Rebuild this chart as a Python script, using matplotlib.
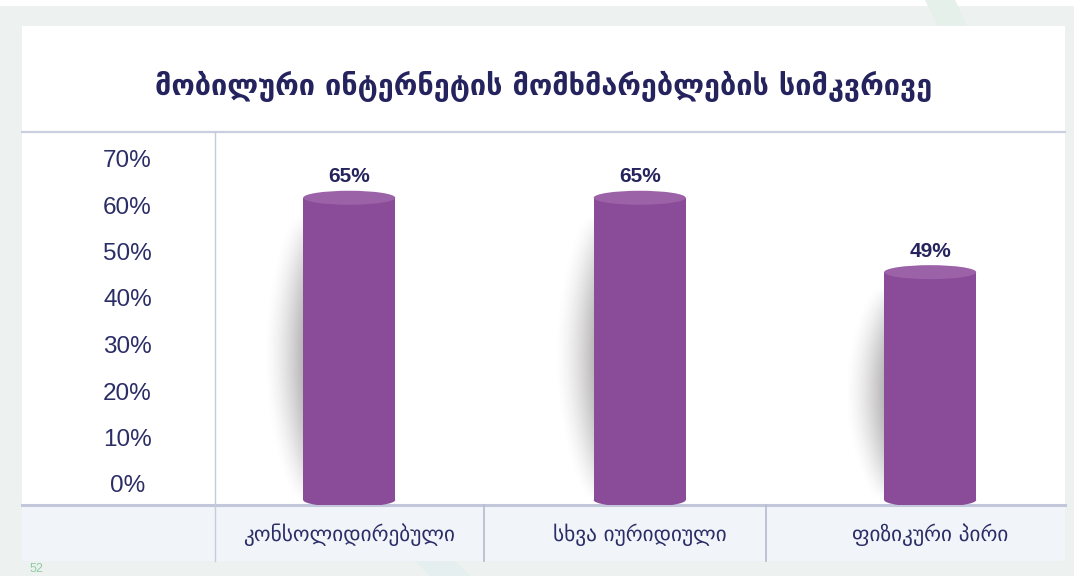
import matplotlib
matplotlib.use("Agg")
import matplotlib.pyplot as plt
import matplotlib.transforms as mtransforms
from matplotlib.patches import Rectangle, Ellipse, Polygon
import numpy as np

# data
categories = ["კონსოლიდირებული", "სხვა იურიდიული", "ფიზიკური პირი"]
values = [65, 65, 49]
value_labels = ["65%", "65%", "49%"]
y_ticks = [0, 10, 20, 30, 40, 50, 60, 70]
y_tick_labels = ["0%", "10%", "20%", "30%", "40%", "50%", "60%", "70%"]
title = "მობილური ინტერნეტის მომხმარებლების სიმკვრივე"
page_number = "52"

W, H = 1074, 576
DPI = 100
PURPLE = "#8a4b98"
PURPLE_TOP = "#9c62a8"
NAVY = "#2b2d66"
LINE = "#c9cee0"

fig = plt.figure(figsize=(W / DPI, H / DPI), dpi=DPI)
fig.patch.set_facecolor("#edf2f1")


def px_rect(x0, y0, x1, y1, color, z=-5, alpha=1.0):
    # rectangle given in pixel coords measured from the top-left corner
    r = Rectangle((x0 / W, 1 - y1 / H), (x1 - x0) / W, (y1 - y0) / H,
                  transform=fig.transFigure, facecolor=color, edgecolor="none",
                  zorder=z, alpha=alpha)
    fig.patches.append(r)


def px_line(x0, y0, x1, y1, color, lw=1.0, z=-4):
    fig.add_artist(plt.Line2D([x0 / W, x1 / W], [1 - y0 / H, 1 - y1 / H],
                              transform=fig.transFigure, color=color, lw=lw, zorder=z))


# page background, card, title strip and category band
px_rect(0, 0, W, 6, "white", z=-6)
fig.patches.append(Polygon([(925 / W, 1), (955 / W, 1), (1040 / W, 1 - 180 / H), (1010 / W, 1 - 180 / H)],
                           closed=True, transform=fig.transFigure, facecolor="#e6f0ea",
                           edgecolor="none", zorder=-5.5))
fig.patches.append(Polygon([(430 / W, 0), (470 / W, 0), (450 / W, 20 / H), (410 / W, 20 / H)],
                           closed=True, transform=fig.transFigure, facecolor="#e5efef",
                           edgecolor="none", zorder=-5.5))
px_rect(22, 26, 1065, 561, "white")
px_rect(22, 505, 1065, 561, "#f1f5f9")
px_line(22, 131.5, 1065, 131.5, LINE, lw=1.6)
px_line(22, 504.5, 1065, 504.5, "#c2c7db", lw=2.2)
px_line(215, 132, 215, 561, "#c6cbdc", lw=1.0)
px_line(484, 505, 484, 561, "#b9bfd3", lw=1.3)
px_line(766, 505, 766, 561, "#b9bfd3", lw=1.3)

fig.text(30 / W, 1 - 563 / H, page_number, color="#8fcca3", fontsize=9,
         family="Liberation Sans", ha="left", va="top")

# chart axes
ax = fig.add_axes([215 / W, 1 - 505 / H, (1065 - 215) / W, (505 - 132) / H])
ax.set_facecolor("none")
for s in ax.spines.values():
    s.set_visible(False)

px_per_x = 290.5
px_per_y = 4.65
x = np.arange(len(categories))
bar_w = 92 / px_per_x
ell_h = 14 / px_per_y

for xi, v, lab in zip(x, values, value_labels):
    # soft shadow left of the cylinder
    sw = 42 / px_per_x
    nx, ny = 60, 120
    dx = np.linspace(1, 0, nx) * 42          # px distance from bar edge
    t = np.linspace(0, 1, ny)[:, None]        # 0 bottom .. 1 top
    amp = np.clip(np.sin(np.pi * np.clip(t / 0.97, 0, 1)), 0, 1) ** 0.8
    spread = 6 + 34 * np.sin(np.pi * np.clip(t * 0.95 + 0.03, 0, 1)) ** 0.7
    alpha = 0.48 * amp * np.clip(1 - dx[None, :] / spread, 0, 1) ** 1.6
    img = np.zeros((ny, nx, 4))
    img[..., 0] = 0.38
    img[..., 1] = 0.36
    img[..., 2] = 0.36
    img[..., 3] = alpha
    left = xi - bar_w / 2
    ax.imshow(img[::-1], extent=[left - sw, left + 2 / px_per_x, 0, v - 2],
              aspect="auto", interpolation="bilinear", zorder=1)

    ax.add_patch(Ellipse((xi, 0), bar_w, ell_h, facecolor=PURPLE, edgecolor="none", zorder=2))
    ax.add_patch(Rectangle((xi - bar_w / 2, 0), bar_w, v, facecolor=PURPLE,
                           edgecolor="none", zorder=2))
    ax.add_patch(Ellipse((xi, v), bar_w, ell_h, facecolor=PURPLE_TOP,
                         edgecolor="none", zorder=3))
    ax.annotate(lab, (xi, v), xytext=(0, 15), textcoords="offset points",
                ha="center", va="center", fontsize=15, fontweight="bold",
                family="Liberation Sans", color="#26245c", zorder=4)

ax.set_xlim((215 - 349.2) / px_per_x, (1065 - 349.2) / px_per_x)
ax.set_ylim(-5 / px_per_y, (500 - 132) / px_per_y)

ax.set_yticks(y_ticks)
ax.set_yticklabels(y_tick_labels, fontsize=17.5, color=NAVY, family="Liberation Sans",
                   ha="center")
ax.tick_params(axis="y", length=0, pad=63)
shift = mtransforms.ScaledTranslation(0, 16 / DPI, fig.dpi_scale_trans)
for lbl in ax.get_yticklabels():
    lbl.set_transform(lbl.get_transform() + shift)

ax.set_xticks(x)
ax.set_xticklabels(categories, fontsize=13, color=NAVY, family="DejaVu Sans", va="center")
ax.tick_params(axis="x", length=0, pad=21.6)

t_obj = fig.text(544 / W, 1 - 86 / H, title, ha="center", va="center", fontsize=19,
                 fontweight="bold", family="DejaVu Sans", color="#25235e")

# fit title and category labels to the widths measured on the reference
fig.canvas.draw()
r = fig.canvas.get_renderer()
tw = t_obj.get_window_extent(r).width
t_obj.set_fontsize(19 * 775 / tw)
cw = ax.get_xticklabels()[0].get_window_extent(r).width
for lbl in ax.get_xticklabels():
    lbl.set_fontsize(13 * 211 / cw)

fig.savefig("out.png", dpi=DPI, facecolor=fig.get_facecolor())
